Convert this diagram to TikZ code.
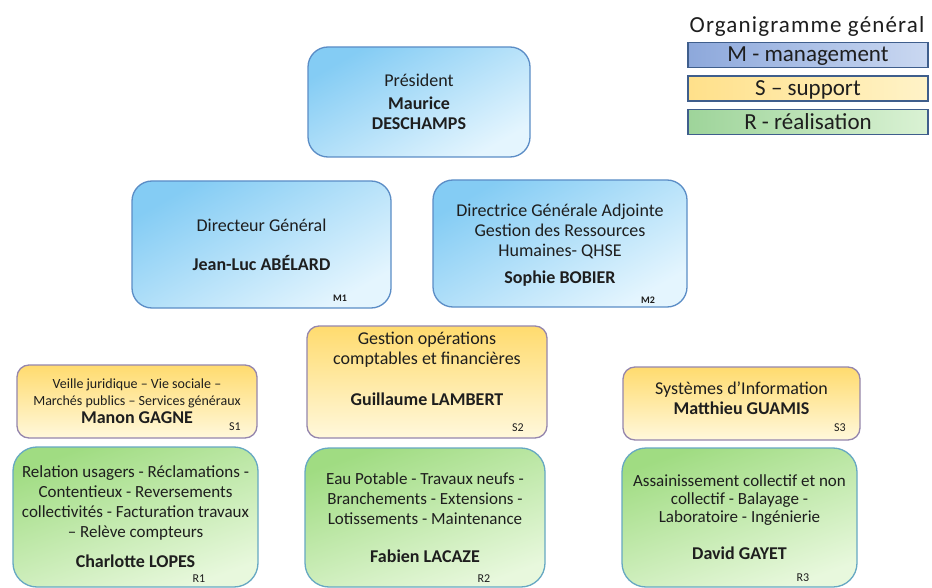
\documentclass[tikz,border=0pt]{standalone}
\usepackage{fontspec}
\setmainfont{Carlito}
\usetikzlibrary{positioning}
\definecolor{ink}{HTML}{1E1E1E}
\definecolor{mline}{HTML}{5B8DC6}
\definecolor{mhigh}{HTML}{84CCF4}
\definecolor{mlow}{HTML}{E4F5FE}
\definecolor{sline}{HTML}{9586AD}
\definecolor{shigh}{HTML}{FFDB6E}
\definecolor{slow}{HTML}{FFF8DC}
\definecolor{rline}{HTML}{66A8C2}
\definecolor{rhigh}{HTML}{A0DC82}
\definecolor{rlow}{HTML}{E8F8DD}
\definecolor{legline}{HTML}{3F5E8C}
\definecolor{legm}{HTML}{8DA8DB}
\definecolor{legmlight}{HTML}{CAD8F1}
\definecolor{legs}{HTML}{FFE08A}
\definecolor{legslight}{HTML}{FFF3C8}
\definecolor{legr}{HTML}{9ED49A}
\definecolor{legrlight}{HTML}{DAF2D4}
\tikzset{
  mbox/.style={rectangle,rounded corners=20pt,draw=mline,line width=1.3pt,top color=mhigh,bottom color=mlow,shading angle=30,align=center,text=ink,font=\fontsize{18}{20}\selectfont},
  sbox/.style={rectangle,rounded corners=12pt,draw=sline,line width=1.3pt,top color=shigh,bottom color=slow,align=center,text=ink,font=\fontsize{18}{20}\selectfont},
  rbox/.style={rectangle,rounded corners=24pt,draw=rline,line width=1.3pt,top color=rhigh,bottom color=rlow,shading angle=20,align=center,text=ink,font=\fontsize{17}{20}\selectfont},
  mcode/.style={font=\fontsize{10}{10}\selectfont\bfseries,text=ink,inner sep=0pt},
  scode/.style={font=\fontsize{12}{12}\selectfont,text=ink,inner sep=0pt},
  legbox/.style={rectangle,draw=legline,line width=1.6pt,minimum width=240pt,minimum height=25pt,inner sep=0pt,text height=14pt,text depth=0pt,font=\fontsize{23}{23}\selectfont,text=ink}
}

\begin{document}
\begin{tikzpicture}[x=1pt,y=-1pt]
    \useasboundingbox (0,0) rectangle (932,588);
    \fill[white] (0,0) rectangle (932,588);

    % legend
    \node[anchor=base,font=\fontsize{23}{23}\selectfont\addfontfeatures{LetterSpace=5},text=ink] (legtitle) at (807,33) {Organigramme général};
    \node[legbox,left color=legm,right color=legmlight] (legm) at (808,55) {M - management};
    \node[legbox,left color=legs,right color=legslight,below=7pt of legm] (legs) {S -- support};
    \node[legbox,left color=legr,right color=legrlight,below=7pt of legs] (legr) {R - réalisation};

    % management
    \node[mbox,minimum width=222pt,minimum height=110pt] (pres) at (419,102)
      {Président\\[3pt]\textbf{Maurice}\\\textbf{DESCHAMPS}};
    \node[mbox,minimum width=259pt,minimum height=127pt] (dg) at (261.5,244.5)
      {Directeur Général\\[19pt]\textbf{Jean-Luc ABÉLARD}};
    \node[mbox,minimum width=254pt,minimum height=127pt,text depth=-7pt] (dga) at (560,243.5)
      {Directrice Générale Adjointe\\Gestion des Ressources\\Humaines- QHSE\\[7pt]\textbf{Sophie BOBIER}};
    \node[mcode] (m1) at (340,298) {M1};
    \node[mcode] (m2) at (648,300) {M2};

    % support
    \node[sbox,minimum width=240pt,minimum height=73pt,font=\fontsize{14}{17}\selectfont] (s1) at (137,401.5)
      {Veille juridique -- Vie sociale --\\Marchés publics -- Services généraux\\[1pt]{\fontsize{18}{20}\selectfont\bfseries Manon GAGNE}};
    \node[sbox,minimum width=240pt,minimum height=112pt,text depth=26pt] (s2) at (427,382)
      {Gestion opérations\\comptables et financières\\[21pt]\textbf{Guillaume LAMBERT}};
    \node[sbox,minimum width=237pt,minimum height=73pt,text depth=10pt] (s3) at (741.5,403.5)
      {Systèmes d’Information\\\textbf{Matthieu GUAMIS}};
    \node[scode] (s1code) at (235,427) {S1};
    \node[scode] (s2code) at (518,428) {S2};
    \node[scode] (s3code) at (840,428) {S3};

    % realisation
    \node[rbox,minimum width=245pt,minimum height=140pt] (r1) at (135.5,517)
      {Relation usagers - Réclamations -\\Contentieux - Reversements\\collectivités - Facturation travaux\\-- Relève compteurs\\[10pt]{\fontsize{18}{20}\selectfont\bfseries Charlotte LOPES}};
    \node[rbox,minimum width=240pt,minimum height=139pt] (r2) at (425,517.5)
      {Eau Potable - Travaux neufs -\\Branchements - Extensions -\\Lotissements - Maintenance\\[18pt]{\fontsize{18}{20}\selectfont\bfseries Fabien LACAZE}};
    \node[rbox,minimum width=235pt,minimum height=139pt] (r3) at (739.5,517.5)
      {Assainissement collectif et non\\[-2pt]collectif - Balayage -\\[-2pt]Laboratoire - Ingénierie\\[17pt]{\fontsize{18}{20}\selectfont\bfseries David GAYET}};
    \node[scode] (r1code) at (199,579) {R1};
    \node[scode] (r2code) at (484,579) {R2};
    \node[scode] (r3code) at (803,578) {R3};
\end{tikzpicture}
\end{document}
